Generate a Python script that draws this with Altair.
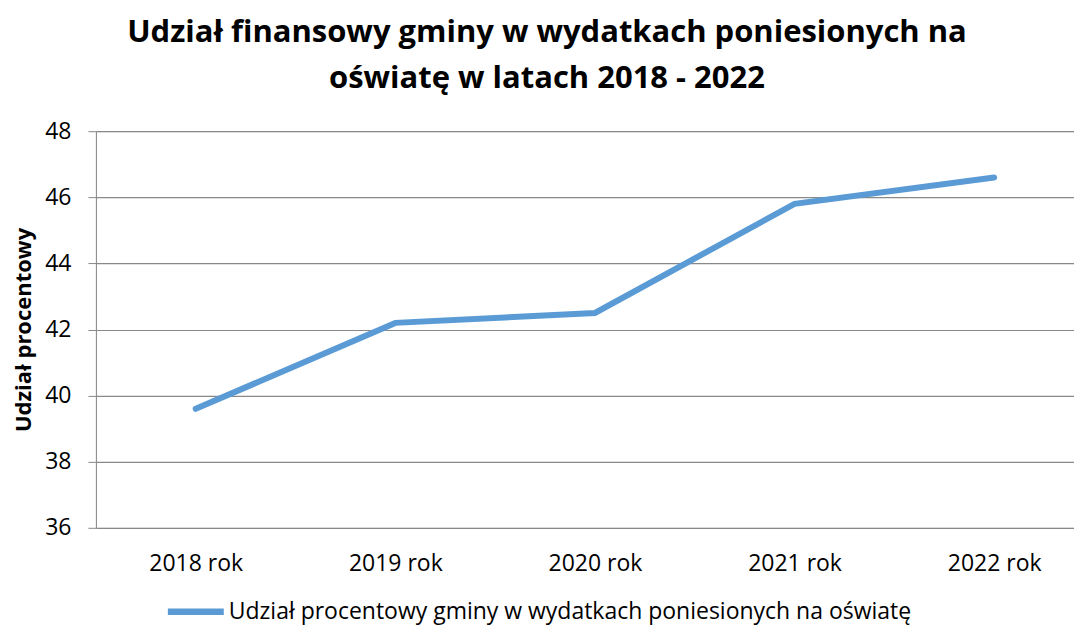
import json
import altair as alt
import pandas as pd

years = ["2018 rok", "2019 rok", "2020 rok", "2021 rok", "2022 rok"]
values = [39.6, 42.2, 42.5, 45.8, 46.6]
series = "Udział procentowy gminy w wydatkach poniesionych na oświatę"

df = pd.DataFrame({
    "rok": years,
    "poz": list(range(len(years))),
    "wartosc": values,
    "seria": [series] * len(years),
})

FONT = "Open Sans"
GRAY = "#898989"
label_expr = json.dumps(years) + "[datum.value]"

chart = alt.Chart(df).mark_line(strokeWidth=6, strokeCap="round").encode(
    x=alt.X("poz:Q", title=None,
            scale=alt.Scale(domain=[-0.5, 4.4], nice=False, zero=False),
            axis=alt.Axis(values=list(range(len(years))), labelExpr=label_expr,
                          labelAngle=0, ticks=False, domain=False, grid=False,
                          labelFont=FONT, labelFontSize=23, labelColor="#000000",
                          labelPadding=25, labelFlush=False, labelOverlap=False)),
    y=alt.Y("wartosc:Q", title="Udział procentowy",
            scale=alt.Scale(domain=[36, 48], nice=False, zero=False),
            axis=alt.Axis(values=[36, 38, 40, 42, 44, 46, 48], tickSize=8,
                          tickColor=GRAY, domainColor=GRAY,
                          gridColor=GRAY, gridWidth=1.2,
                          labelFont=FONT, labelFontSize=23, labelColor="#000000",
                          labelPadding=17, titleFont=FONT, titleFontSize=22,
                          titleFontWeight="bold", titleColor="#000000",
                          titlePadding=9)),
    color=alt.Color("seria:N", title=None,
                    scale=alt.Scale(range=["#5b9bd5"]),
                    legend=alt.Legend(orient="none", legendX=87, legendY=468,
                                      padding=0,
                                      symbolType="M-3,0H3", symbolSize=348,
                                      symbolStrokeWidth=6.5, labelFont=FONT,
                                      labelFontSize=23, labelColor="#000000",
                                      labelOffset=20, labelLimit=1000)),
).properties(
    width=979,
    height=397,
    padding={"left": 4, "top": 9, "right": 0, "bottom": 0},
    title=alt.Title(["Udział finansowy gminy w wydatkach poniesionych na",
                     "oświatę w latach 2018 - 2022"],
                    font=FONT, fontSize=31, fontWeight="bold", color="#000000",
                    anchor="middle", lineHeight=46, offset=25, dx=-38),
).configure_view(stroke=None).configure(background="white")

chart.save("out.html", embed_options={"renderer": "svg", "actions": False})
